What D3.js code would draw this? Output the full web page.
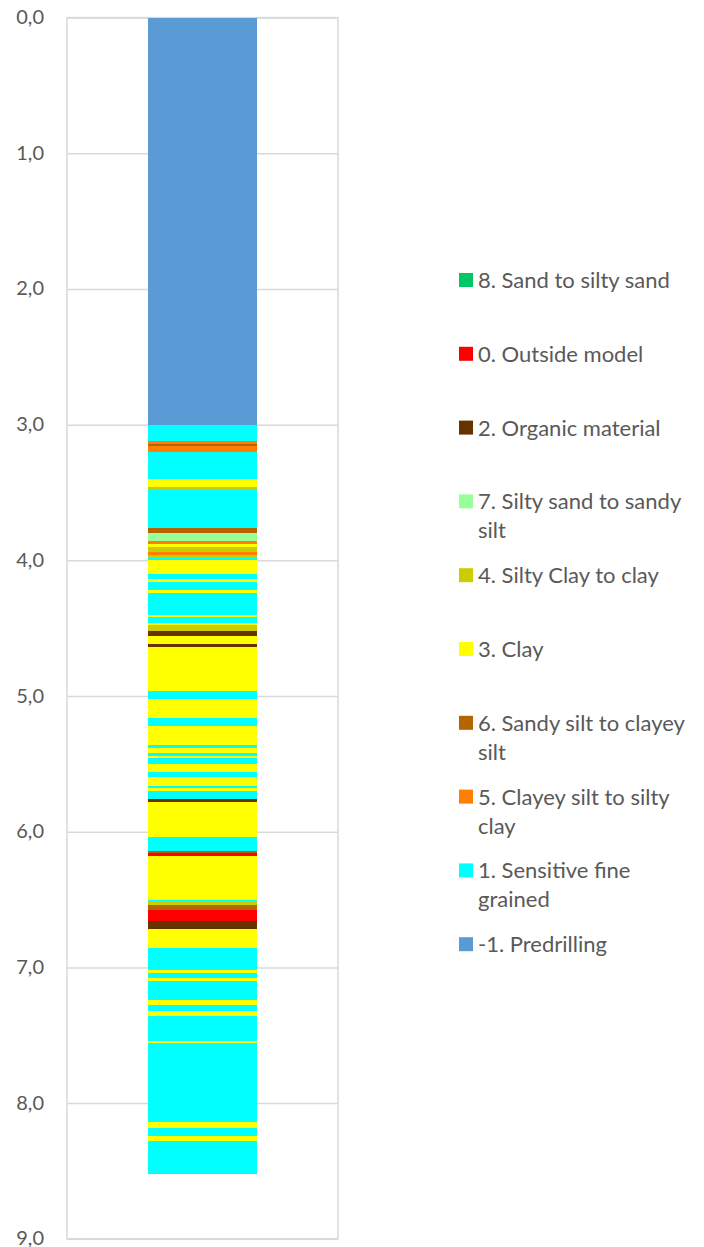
<!DOCTYPE html>
<html>
<head>
<meta charset="utf-8">
<script src="https://cdn.jsdelivr.net/npm/d3@7"></script>
<style>
  body { margin: 0; background: #ffffff; }
  svg { display: block; }
  text { font-family: Lato, "Open Sans", sans-serif; fill: #595959; }
</style>
</head>
<body>
<div id="chart"></div>
<script>
// Soil behaviour type classes (legend order, top to bottom)
const classCodes = [8, 0, 2, 7, 4, 3, 6, 5, 1, -1];
const classNames = [
  "8. Sand to silty sand",
  "0. Outside model",
  "2. Organic material",
  "7. Silty sand to sandy\nsilt",
  "4. Silty Clay to clay",
  "3. Clay",
  "6. Sandy silt to clayey\nsilt",
  "5. Clayey silt to silty\nclay",
  "1. Sensitive fine\ngrained",
  "-1. Predrilling"
];
const classColors = [
  "#00C864", "#FF0000", "#663300", "#99FF99", "#CCCC00",
  "#FFFF00", "#B46400", "#FF8000", "#00FFFF", "#5B9BD5"
];

// Layer profile: bottom depth of each layer (m) and its class code
const layerBottoms = [
  3.00, 3.12, 3.14, 3.16, 3.20, 3.40, 3.46, 3.48, 3.76, 3.80,
  3.86, 3.88, 3.90, 3.94, 3.96, 3.98, 4.00, 4.10, 4.14, 4.16,
  4.22, 4.24, 4.40, 4.42, 4.46, 4.48, 4.52, 4.56, 4.62, 4.64,
  4.96, 5.02, 5.16, 5.22, 5.36, 5.38, 5.42, 5.44, 5.46, 5.50,
  5.56, 5.60, 5.66, 5.68, 5.70, 5.76, 5.78, 6.04, 6.14, 6.16,
  6.18, 6.50, 6.52, 6.54, 6.58, 6.66, 6.72, 6.86, 7.02, 7.04,
  7.08, 7.10, 7.24, 7.28, 7.32, 7.36, 7.54, 7.56, 8.14, 8.18,
  8.24, 8.28, 8.52
];
const layerCodes = [
  -1, 1, 5, 6, 5, 1, 3, 4, 1, 6,
   7, 5, 3, 4, 5, 4, 1, 3, 1, 3,
   1, 3, 1, 3, 1, 3, 4, 2, 3, 2,
   3, 1, 3, 1, 3, 1, 3, 1, 3, 1,
   3, 1, 3, 1, 3, 1, 2, 3, 1, 6,
   0, 3, 1, 4, 6, 0, 2, 3, 1, 3,
   1, 3, 1, 3, 1, 3, 1, 3, 1, 3,
   1, 3, 1
];

const depthTicks = [0, 1, 2, 3, 4, 5, 6, 7, 8, 9];

const W = 704, H = 1247;
const plot = { left: 67, right: 338, top: 17.6, bottom: 1238.8 };

const svg = d3.select("#chart").append("svg")
  .attr("width", W).attr("height", H);

const y = d3.scaleLinear().domain([0, 9]).range([plot.top, plot.bottom]);
const x = d3.scaleBand().domain(["CPT"]).range([plot.left, plot.right]).padding(0.4252);
const color = d3.scaleOrdinal().domain(classCodes).range(classColors);

// Horizontal gridlines
svg.append("g")
  .attr("transform", `translate(${plot.left},0)`)
  .call(d3.axisLeft(y).tickValues(depthTicks).tickSize(-(plot.right - plot.left)).tickFormat(""))
  .call(g => g.select(".domain").remove())
  .call(g => g.selectAll(".tick line").attr("stroke", "#D9D9D9").attr("stroke-width", 1.5));

// Plot frame
svg.append("rect")
  .attr("x", plot.left).attr("y", plot.top)
  .attr("width", plot.right - plot.left).attr("height", plot.bottom - plot.top)
  .attr("fill", "none").attr("stroke", "#D9D9D9").attr("stroke-width", 1.5);

// Depth axis labels
svg.append("g")
  .attr("transform", `translate(${plot.left},0)`)
  .call(d3.axisLeft(y).tickValues(depthTicks).tickSize(0).tickPadding(23)
    .tickFormat(d => d3.format(".1f")(d).replace(".", ",")))
  .call(g => g.select(".domain").remove())
  .call(g => g.selectAll(".tick text")
    .attr("font-family", "Lato, 'Open Sans', sans-serif")
    .attr("font-size", 20).attr("dy", "0.3em").attr("fill", "#595959"));

// Stacked layers
const layers = layerBottoms.map((b, i) => ({
  top: i === 0 ? 0 : layerBottoms[i - 1],
  bottom: b,
  code: layerCodes[i]
}));

svg.append("g").selectAll("rect")
  .data(layers)
  .join("rect")
  .attr("x", x("CPT"))
  .attr("width", x.bandwidth())
  .attr("y", d => y(d.top))
  .attr("height", d => y(d.bottom) - y(d.top))
  .attr("fill", d => color(d.code))
  .attr("shape-rendering", "crispEdges");

// Legend
const legendTop = 280, legendStep = 73.8, lineH = 29;
const legend = svg.append("g").selectAll("g")
  .data(classCodes)
  .join("g")
  .attr("transform", (d, i) => `translate(459,${legendTop + i * legendStep})`);

legend.append("rect")
  .attr("x", 0).attr("y", -7).attr("width", 14).attr("height", 14)
  .attr("fill", d => color(d));

legend.append("text")
  .attr("x", 19).attr("y", 8)
  .attr("font-size", 22)
  .selectAll("tspan")
  .data((d, i) => classNames[i].split("\n"))
  .join("tspan")
  .attr("x", 19)
  .attr("dy", (d, j) => j === 0 ? 0 : lineH)
  .text(d => d);
</script>
</body>
</html>
